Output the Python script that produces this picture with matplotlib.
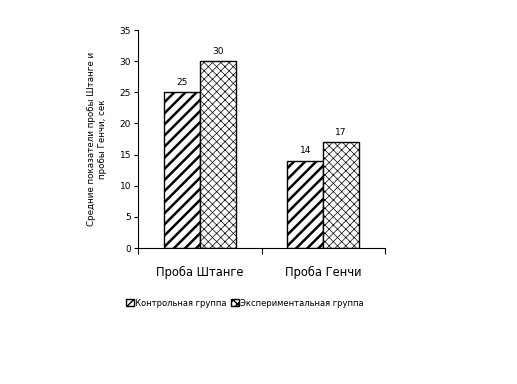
import matplotlib
matplotlib.use("Agg")
import matplotlib.pyplot as plt
from matplotlib.patches import Patch
import numpy as np

categories = ["Проба Штанге", "Проба Генчи"]
series_names = ["Контрольная группа", "Экспериментальная группа"]
control = [25, 14]
experimental = [30, 17]
yticks = [0, 5, 10, 15, 20, 25, 30, 35]
ylabel = "Средние показатели пробы Штанге и\nпробы Генчи, сек"

plt.rcParams['font.family'] = ['DejaVu Sans']

fig = plt.figure(figsize=(5.17, 3.84), dpi=100)
W, H = 517, 384
ax = fig.add_axes([138 / W, 1 - 248 / H, (385 - 138) / W, (248 - 30) / H])

x = np.arange(len(categories)) + 0.5
w = 0.29
hatches = ['///', 'xxxx']
lws = [1.8, 0.5]
for i, (vals, h, lw) in enumerate(zip([control, experimental], hatches, lws)):
    pos = x - w / 2 + i * w
    with plt.rc_context({'hatch.linewidth': lw}):
        bars = ax.bar(pos, vals, width=w, facecolor='white', edgecolor='black',
                      hatch=h, linewidth=1.0, label=series_names[i])
    for b in bars:
        try:
            b.set_hatch_linewidth(lw)
        except Exception:
            pass
    for p, v in zip(pos, vals):
        ax.annotate(str(v), (p, v), xytext=(0, 4), textcoords='offset points',
                    ha='center', va='bottom', fontsize=6.5)

ax.set_xlim(0, len(categories))
ax.set_ylim(0, 35)
ax.set_yticks(yticks)
ax.tick_params(axis='y', labelsize=6.5, length=3, width=0.8, pad=2)
ax.set_xticks([0, 1, 2])
ax.set_xticklabels([])
ax.tick_params(axis='x', length=4, width=0.8)
ax.set_xticks(x, minor=True)
ax.set_xticklabels(categories, minor=True, fontsize=8.3)
ax.tick_params(axis='x', which='minor', length=0, pad=13)
for s in ['top', 'right']:
    ax.spines[s].set_visible(False)
ax.spines['left'].set_linewidth(0.8)
ax.spines['bottom'].set_linewidth(0.8)

fig.text(97 / W, 1 - 139 / H, ylabel, rotation=90, ha='center', va='center',
         fontsize=6.3, multialignment='center')

handles = []
for i in range(2):
    p = Patch(facecolor='white', edgecolor='black', hatch=hatches[i], label=series_names[i])
    try:
        p.set_hatch_linewidth(lws[i])
    except Exception:
        pass
    handles.append(p)
leg = fig.legend(handles=handles, loc='center', bbox_to_anchor=(245 / W, 1 - 303 / H),
                 ncol=2, frameon=False, fontsize=6, handlelength=0.9, handleheight=0.9,
                 handletextpad=0.2, columnspacing=0.5, borderpad=0.2)

fig.savefig("out.png", dpi=100)
